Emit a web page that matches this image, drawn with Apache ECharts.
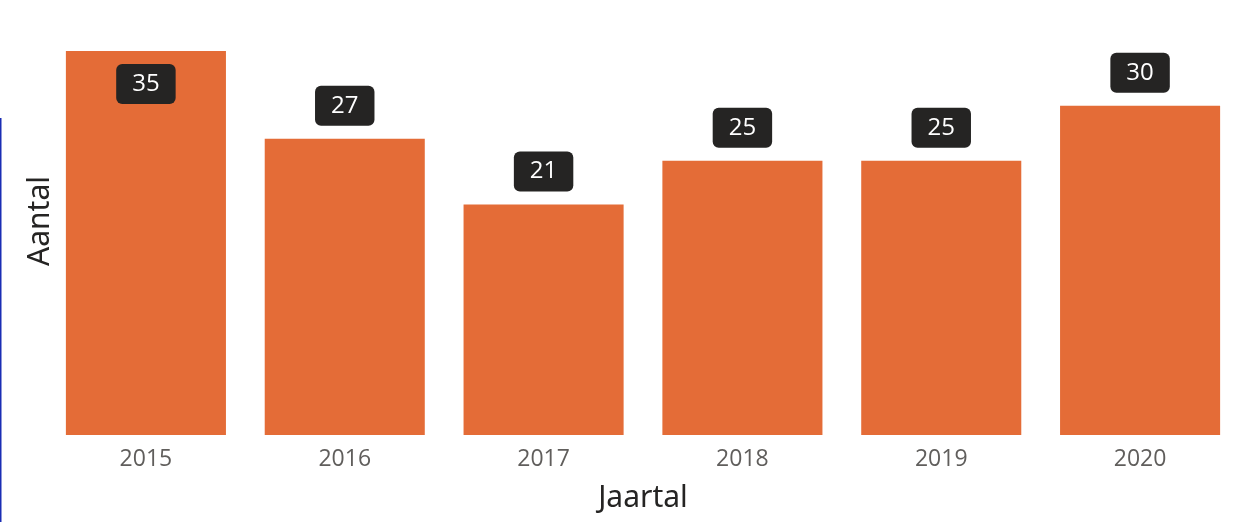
<!DOCTYPE html>
<html>
<head>
<meta charset="utf-8">
<script src="https://cdn.jsdelivr.net/npm/echarts@6/dist/echarts.min.js"></script>
<style>
  html, body { margin: 0; padding: 0; background: #fff; }
  #chart { width: 1233px; height: 522px; }
</style>
</head>
<body>
<div id="chart"></div>
<script>
// Aantal per jaar
const jaren = ['2015', '2016', '2017', '2018', '2019', '2020'];
const aantallen = [35, 27, 21, 25, 25, 30];
const yMax = 35;

const chart = echarts.init(document.getElementById('chart'), null, { renderer: 'canvas' });

const labelBase = {
  show: true,
  color: '#ffffff',
  fontFamily: 'Open Sans',
  fontSize: 24,
  lineHeight: 24,
  backgroundColor: '#252423',
  borderRadius: 6,
  padding: [8, 16, 8, 16]
};

const data = aantallen.map(function (v) {
  // the tallest bar carries its label inside, the others above
  const inside = v >= yMax;
  return {
    value: v,
    label: Object.assign({}, labelBase, {
      position: inside ? 'insideTop' : 'top',
      distance: 13
    })
  };
});

chart.setOption({
  animation: false,
  backgroundColor: '#ffffff',
  grid: {
    left: 46.5, top: 51, width: 1193, height: 384,
    containLabel: false,
    outerBoundsMode: 'none'
  },
  xAxis: {
    type: 'category',
    data: jaren,
    name: 'Jaartal',
    nameLocation: 'middle',
    nameGap: 48,
    nameTextStyle: { color: '#252423', fontSize: 30, fontFamily: 'Noto Sans' },
    axisLine: { show: false },
    axisTick: { show: false },
    axisLabel: { color: '#605e5c', fontSize: 23, fontFamily: 'Open Sans', margin: 13 }
  },
  yAxis: {
    type: 'value',
    min: 0,
    max: yMax,
    name: 'Aantal',
    nameLocation: 'middle',
    nameGap: -9,
    nameTextStyle: {
      color: '#252423', fontSize: 30, fontFamily: 'Noto Sans',
      padding: [0, 0, 0, 44]
    },
    axisLine: { show: false },
    axisTick: { show: false },
    axisLabel: { show: false },
    splitLine: { show: false }
  },
  series: [{
    type: 'bar',
    data: data,
    barCategoryGap: '19.5%',
    itemStyle: { color: '#e46c37' }
  }],
  graphic: [{
    type: 'line',
    shape: { x1: 0.5, y1: 118, x2: 0.5, y2: 522 },
    style: { stroke: '#1a2db4', lineWidth: 2 }
  }]
});
</script>
</body>
</html>
